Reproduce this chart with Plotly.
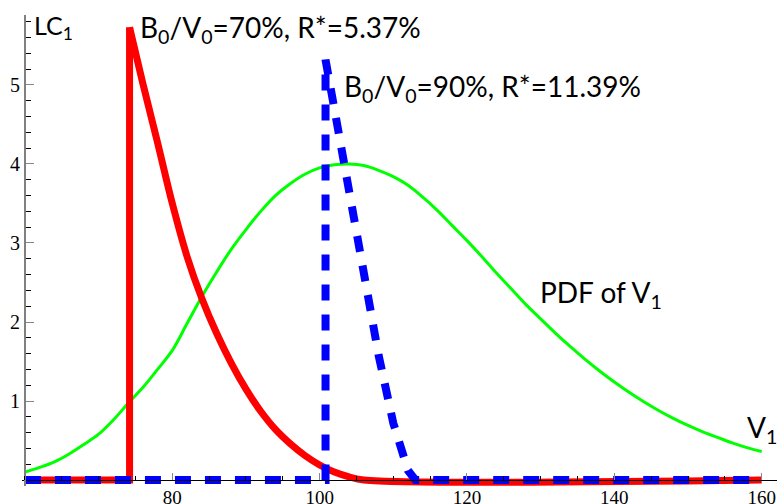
import plotly.graph_objects as go

# values
pdf_x = [60, 62, 64, 66, 68, 70, 72, 74, 76, 78, 80, 82, 84, 86, 88, 90, 92, 94, 96, 98,
         100, 102, 104, 106, 108, 110, 112, 114, 116, 118, 120, 122, 124, 126, 128, 130,
         132, 134, 136, 138, 140, 142, 144, 146, 148, 150, 152, 154, 156, 158, 160]
pdf_y = [0.10, 0.16, 0.23, 0.33, 0.45, 0.58, 0.76, 0.97, 1.17, 1.40, 1.64, 1.98, 2.32,
         2.63, 2.92, 3.17, 3.40, 3.60, 3.75, 3.87, 3.95, 3.99, 4.00, 3.98, 3.92, 3.84,
         3.73, 3.58, 3.41, 3.22, 3.03, 2.83, 2.62, 2.42, 2.22, 2.04, 1.86, 1.69, 1.53,
         1.38, 1.24, 1.11, 0.99, 0.88, 0.78, 0.69, 0.61, 0.54, 0.47, 0.41, 0.36]

# B0/V0 = 70% : jump at V1 = 74.2, then decay
lc70_jump_x = [60, 74.2, 74.2]
lc70_jump_y = [0, 0, 5.73]
lc70_x = [74.2, 76, 78, 80, 82, 84, 86, 88, 90, 92, 94, 96, 98, 100, 102, 104, 106, 160]
lc70_y = [5.73, 5.02, 4.27, 3.50, 2.83, 2.30, 1.86, 1.48, 1.15, 0.87, 0.64, 0.46,
          0.31, 0.19, 0.10, 0.04, 0.0, 0.0]

# B0/V0 = 90%
lc90_x = [60, 100.8, 100.8, 102, 104, 106, 108, 110, 112, 113, 160]
lc90_y = [0, 0, 5.32, 4.70, 3.68, 2.62, 1.58, 0.72, 0.12, 0.0, 0.0]

x_ticks = [80, 100, 120, 140, 160]
y_ticks = [1, 2, 3, 4, 5]

X_MIN, X_MAX = 59.6, 162.08
Y_MIN, Y_MAX = -0.076, 5.886

fig = go.Figure()
fig.add_trace(go.Scatter(x=pdf_x, y=pdf_y, mode="lines", line_shape="spline",
                         line=dict(color="#00ff00", width=3)))
fig.add_trace(go.Scatter(x=lc70_jump_x, y=lc70_jump_y, mode="lines",
                         line=dict(color="#ff0000", width=7)))
fig.add_trace(go.Scatter(x=lc70_x, y=lc70_y, mode="lines", line_shape="spline",
                         line=dict(color="#ff0000", width=7)))
fig.add_trace(go.Scatter(x=lc90_x, y=lc90_y, mode="lines",
                         line=dict(color="#0000ff", width=8, dash="16px,14px")))

sans = "Lato"
fig.add_annotation(x=61.0, y=5.73, text="LC<sub>1</sub>", font=dict(family=sans, size=25))
fig.add_annotation(x=75.4, y=5.71, text="B<sub>0</sub>/V<sub>0</sub>=70%, R*=5.37%",
                   font=dict(family=sans, size=28))
fig.add_annotation(x=103.0, y=4.96, text="B<sub>0</sub>/V<sub>0</sub>=90%, R*=11.39%",
                   font=dict(family=sans, size=28))
fig.add_annotation(x=129.6, y=2.35, text="PDF of V<sub>1</sub>", font=dict(family=sans, size=28))
fig.add_annotation(x=157.7, y=0.645, text="V<sub>1</sub>", font=dict(family=sans, size=28))
fig.update_annotations(showarrow=False, xanchor="left", yanchor="middle", font_color="black")

fig.update_layout(
    width=779, height=504,
    margin=dict(l=22, r=2, t=15, b=18),
    plot_bgcolor="white", paper_bgcolor="white",
    showlegend=False,
)
fig.update_xaxes(
    range=[X_MIN, X_MAX], anchor="free", position=(0 - Y_MIN) / (Y_MAX - Y_MIN),
    showgrid=False, zeroline=False, showline=True, linecolor="black", linewidth=1,
    tickvals=x_ticks, ticks="inside", ticklen=7, tickcolor="#888888",
    minor=dict(dtick=5, tick0=60, ticks="inside", ticklen=4, tickcolor="black"),
    tickfont=dict(family="Liberation Serif", size=19, color="black"),
    ticklabeloverflow="allow",
    automargin=False,
)
fig.update_yaxes(
    range=[Y_MIN, Y_MAX], anchor="free", position=(60 - X_MIN) / (X_MAX - X_MIN),
    showgrid=False, zeroline=False, showline=True, linecolor="#808080", linewidth=2,
    tickvals=y_ticks, ticks="inside", ticklen=8, tickcolor="#888888",
    minor=dict(dtick=0.2, tick0=0, ticks="inside", ticklen=5, tickcolor="black"),
    tickfont=dict(family="Liberation Serif", size=20, color="black"),
    automargin=False,
)

# drop the default page margin so the figure sits at the window's top-left corner
fig.write_html("out.html", config={"displayModeBar": False},
               post_script="document.body.style.margin='0';document.body.style.overflow='hidden';")
